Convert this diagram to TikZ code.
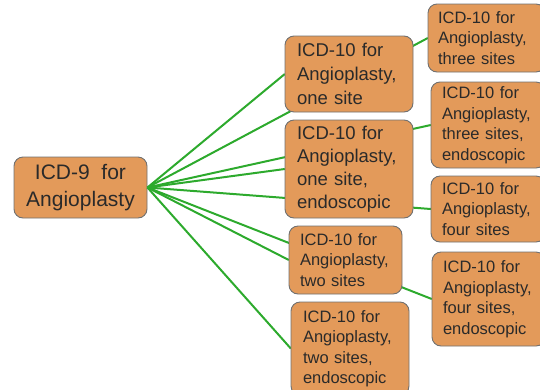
\documentclass[tikz,border=0pt]{standalone}
\usepackage{fontspec}
\setmainfont{Liberation Sans}
\definecolor{boxfill}{HTML}{E39A5A}
\definecolor{boxline}{HTML}{707070}
\definecolor{edgegreen}{HTML}{2DAA2D}
\definecolor{txt}{HTML}{2A2A2A}
\tikzset{
  box/.style={draw=boxline, line width=0.9pt, fill=boxfill, rounded corners=9pt,
    text=txt, inner xsep=0pt, inner ysep=0pt, align=left},
  edge/.style={draw=edgegreen, line width=2pt},
}
\begin{document}
\begin{tikzpicture}[x=1pt,y=-1pt]
\useasboundingbox (0,0) rectangle (540,389);
\clip (0,0) rectangle (540,389);
% node positions
\node[box, minimum width=133pt, minimum height=61pt, align=center,
  font=\fontsize{21}{27}\selectfont] (root) at (80.5,187.5) {ICD-9\ \ for\\Angioplasty};
% invisible anchors for boxes drawn later
\node[minimum width=128pt, minimum height=76pt, inner sep=0pt] (Ac) at (349,74) {};
\node[minimum width=128pt, minimum height=98pt, inner sep=0pt] (Bc) at (349,169) {};
\node[minimum width=113pt, minimum height=68pt, inner sep=0pt] (Cc) at (345.5,260) {};
\node[minimum width=118pt, minimum height=93pt, inner sep=0pt] (Dc) at (350,348.5) {};
\node[minimum width=117pt, minimum height=68pt, inner sep=0pt] (Ec) at (486.5,38) {};
\node[minimum width=114pt, minimum height=86pt, inner sep=0pt] (Fc) at (488,125) {};
\node[minimum width=114pt, minimum height=66pt, inner sep=0pt] (Gc) at (488,209) {};
\node[minimum width=113pt, minimum height=94pt, inner sep=0pt] (Hc) at (488.5,299) {};
% edges
\foreach \t in {Ac,Bc,Cc,Dc,Ec,Fc,Gc,Hc}
  \draw[edge] (root.east) -- (\t.west);
% boxes
\node[box, minimum width=128pt, minimum height=76pt, text width=104pt, inner xsep=12pt,
  font=\fontsize{18.5}{24}\selectfont] (A) at (Ac) {ICD-10 for\\Angioplasty,\\one site};
\node[box, minimum width=128pt, minimum height=98pt, text width=104pt, inner xsep=12pt,
  font=\fontsize{18.5}{23}\selectfont] (B) at (Bc) {ICD-10 for\\Angioplasty,\\one site,\\endoscopic};
\node[box, minimum width=113pt, minimum height=68pt, text width=91pt, inner xsep=11pt,
  font=\fontsize{16.5}{20.5}\selectfont] (C) at (Cc) {ICD-10 for\\Angioplasty,\\two sites};
\node[box, minimum width=118pt, minimum height=93pt, text width=94pt, inner xsep=12pt,
  font=\fontsize{16.5}{20.5}\selectfont] (D) at (Dc) {ICD-10 for\\Angioplasty,\\two sites,\\endoscopic};
\node[box, minimum width=117pt, minimum height=68pt, text width=97pt, inner xsep=10pt,
  font=\fontsize{16.5}{20.5}\selectfont] (E) at (Ec) {ICD-10 for\\Angioplasty,\\three sites};
\node[box, minimum width=114pt, minimum height=86pt, text width=92pt, inner xsep=11pt,
  font=\fontsize{16.5}{20.5}\selectfont] (F) at (Fc) {ICD-10 for\\Angioplasty,\\three sites,\\endoscopic};
\node[box, minimum width=114pt, minimum height=66pt, text width=92pt, inner xsep=11pt,
  font=\fontsize{16.5}{20.5}\selectfont] (G) at (Gc) {ICD-10 for\\Angioplasty,\\four sites};
\node[box, minimum width=113pt, minimum height=94pt, text width=91pt, inner xsep=11pt,
  font=\fontsize{16.5}{20.5}\selectfont] (H) at (Hc) {ICD-10 for\\Angioplasty,\\four sites,\\endoscopic};
\end{tikzpicture}
\end{document}
